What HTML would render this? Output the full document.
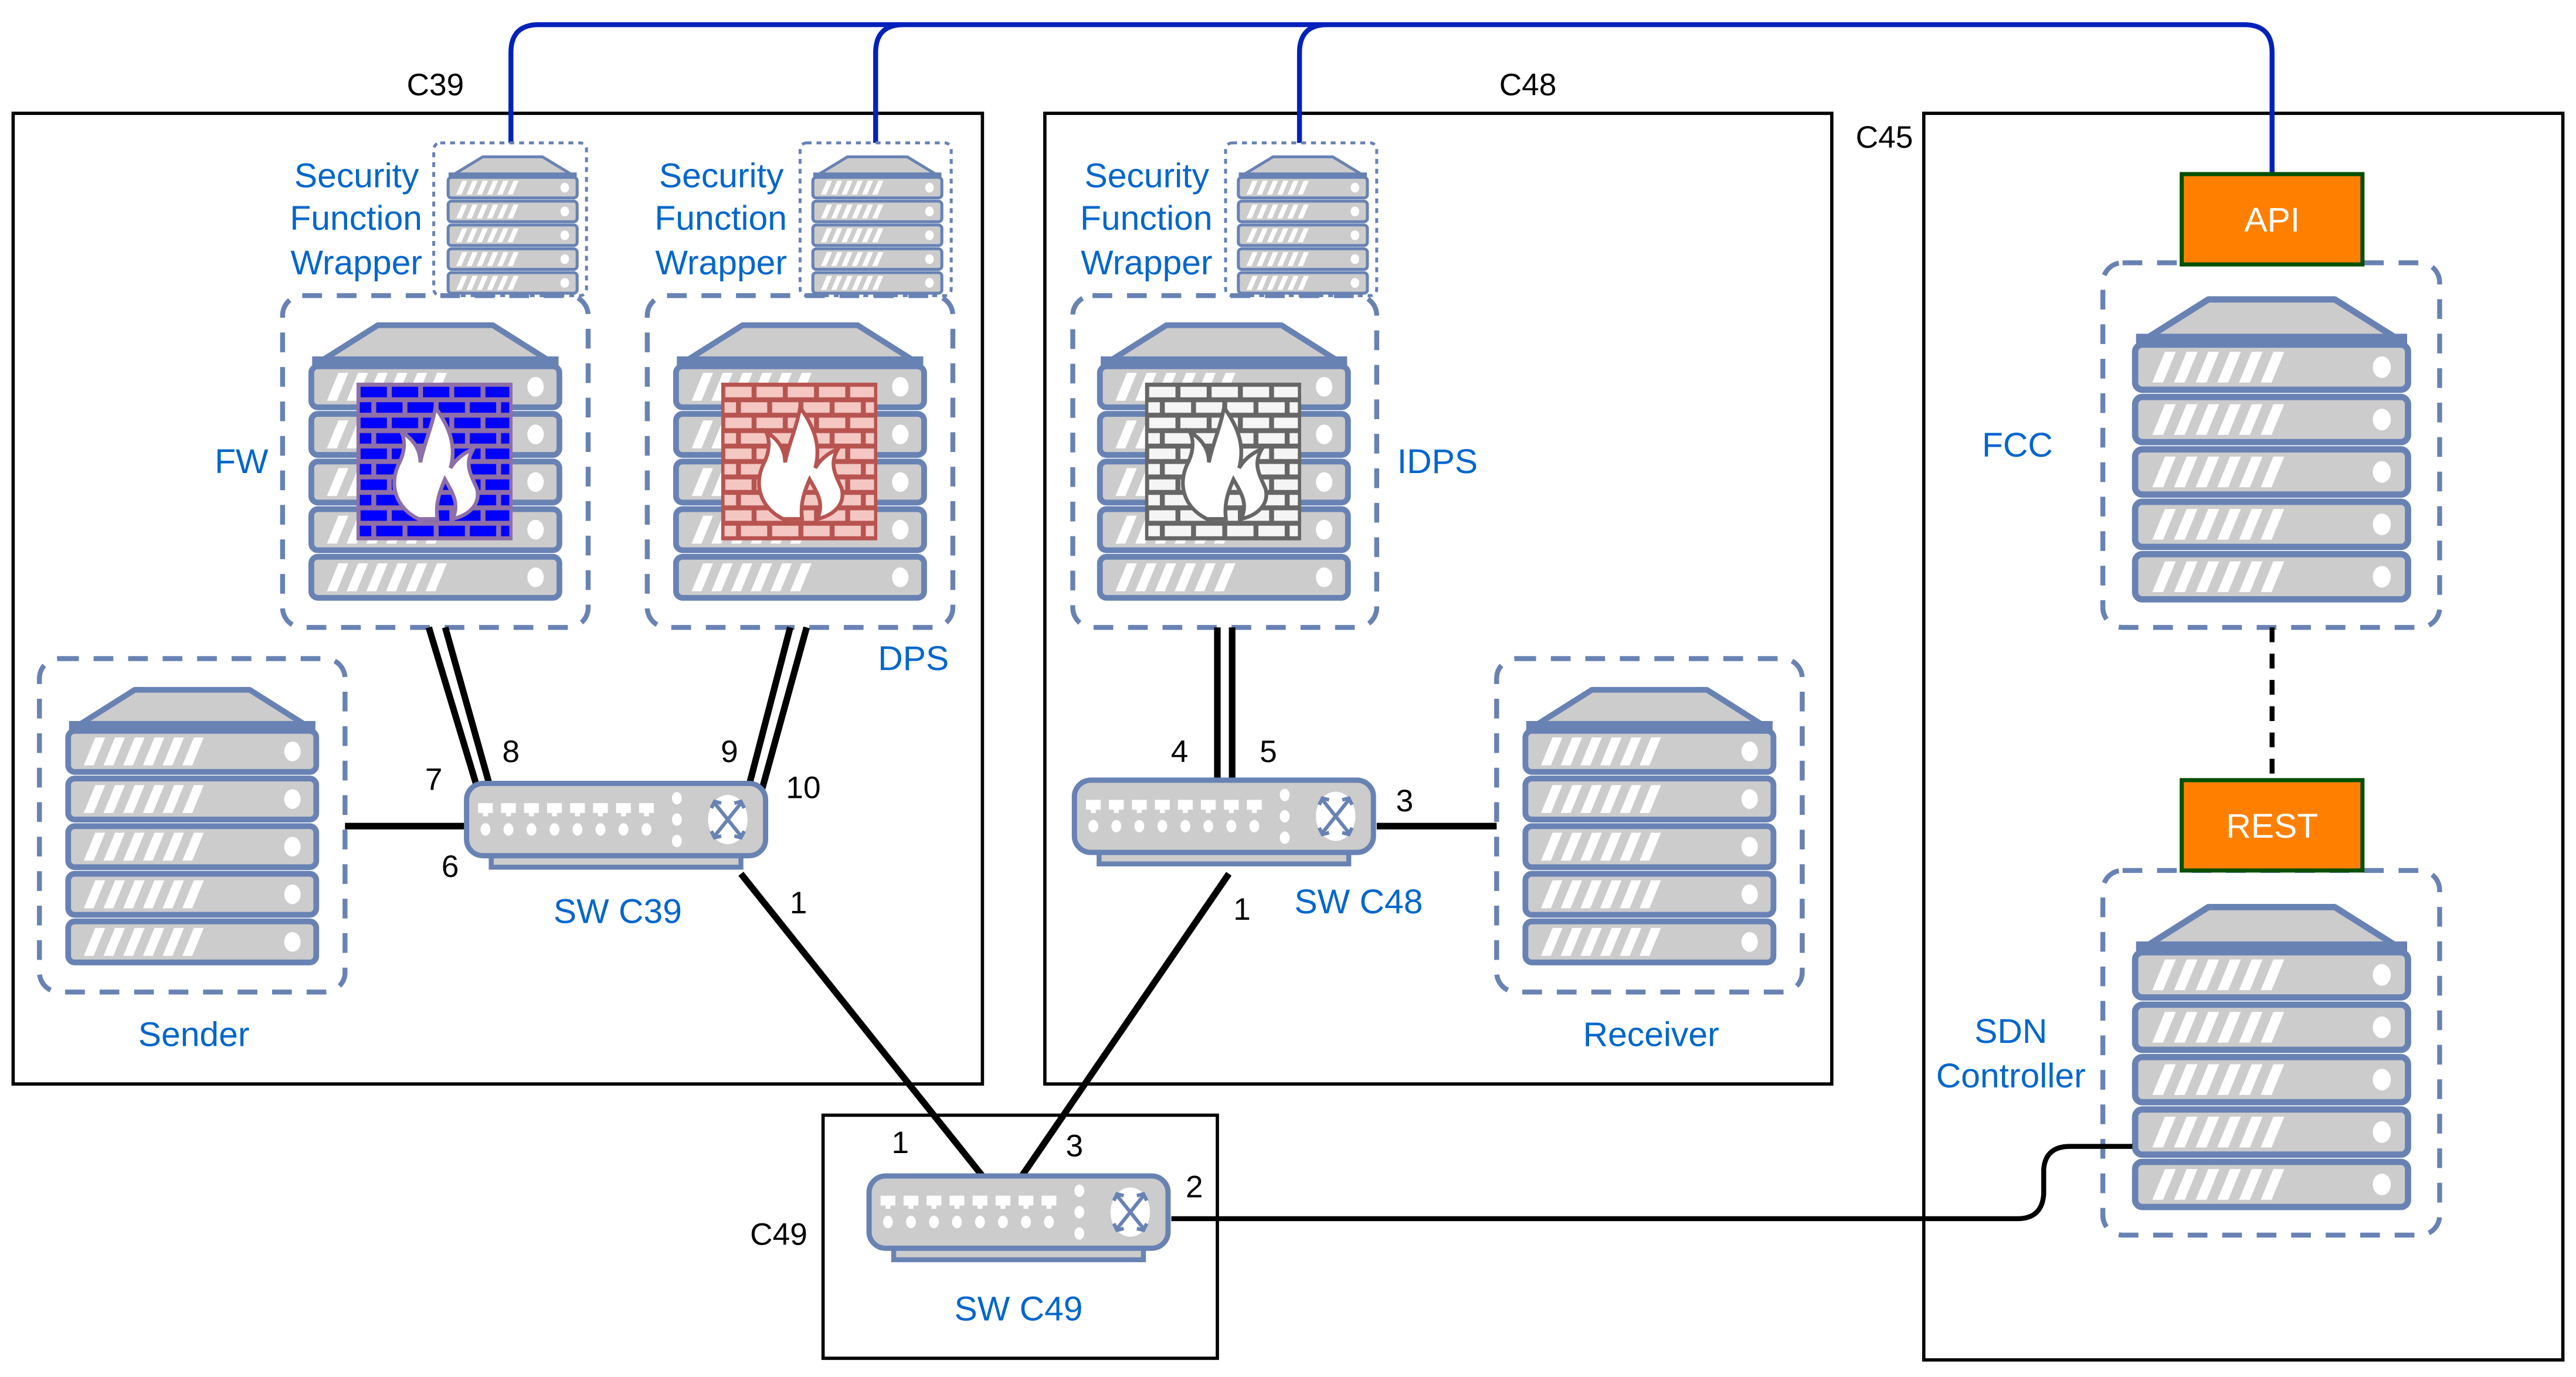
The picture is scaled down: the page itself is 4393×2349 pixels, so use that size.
<!DOCTYPE html>
<html><head><meta charset="utf-8"><style>
html,body{margin:0;padding:0;background:#fff;}
svg{display:block;}
text{font-family:"Liberation Sans",Arial,sans-serif;}
.b{fill:#0066CC;font-size:21px;}
.k{fill:#000;font-size:19px;}
</style></head><body>
<svg width="4393" height="2349" viewBox="0 0 1568 838.4" preserveAspectRatio="none" xmlns="http://www.w3.org/2000/svg">
<defs>
<g id="unit">
<rect x="1.5" y="0" width="151" height="25" rx="4" fill="#CCCCCC" stroke="#6882B4" stroke-width="3.5"/>
<polygon points="18,4 24,4 17,21 11,21" fill="#fff"/>
<polygon points="30,4 36,4 29,21 23,21" fill="#fff"/>
<polygon points="42,4 48,4 41,21 35,21" fill="#fff"/>
<polygon points="54,4 60,4 53,21 47,21" fill="#fff"/>
<polygon points="66,4 72,4 65,21 59,21" fill="#fff"/>
<polygon points="78,4 84,4 77,21 71,21" fill="#fff"/>
<ellipse cx="138" cy="12.5" rx="5" ry="6" fill="#fff"/>
</g>
<g id="srv">
<polygon points="4,27 42,3 112,3 150,27" fill="#CCCCCC" stroke="#6882B4" stroke-width="3.5" stroke-linejoin="round"/>
<rect x="2" y="22" width="150" height="6" fill="#6882B4"/>
<use href="#unit" y="28"/><use href="#unit" y="57"/><use href="#unit" y="86"/><use href="#unit" y="115"/><use href="#unit" y="144"/>
</g>
<g id="sw">
<rect x="17" y="44" width="152" height="9" fill="#CCCCCC" stroke="#6882B4" stroke-width="3"/>
<rect x="2" y="2" width="182" height="44" rx="10" fill="#CCCCCC" stroke="#6882B4" stroke-width="3.2"/>
<g fill="#fff">
<rect x="9" y="14" width="9" height="6"/><rect x="23" y="14" width="9" height="6"/><rect x="37" y="14" width="9" height="6"/><rect x="51" y="14" width="9" height="6"/><rect x="65" y="14" width="9" height="6"/><rect x="79" y="14" width="9" height="6"/><rect x="93" y="14" width="9" height="6"/><rect x="107" y="14" width="9" height="6"/>
<rect x="12" y="19" width="3" height="3"/><rect x="26" y="19" width="3" height="3"/><rect x="40" y="19" width="3" height="3"/><rect x="54" y="19" width="3" height="3"/><rect x="68" y="19" width="3" height="3"/><rect x="82" y="19" width="3" height="3"/><rect x="96" y="19" width="3" height="3"/><rect x="110" y="19" width="3" height="3"/>
<ellipse cx="13.5" cy="30" rx="3" ry="3.8"/><ellipse cx="27.5" cy="30" rx="3" ry="3.8"/><ellipse cx="41.5" cy="30" rx="3" ry="3.8"/><ellipse cx="55.5" cy="30" rx="3" ry="3.8"/><ellipse cx="69.5" cy="30" rx="3" ry="3.8"/><ellipse cx="83.5" cy="30" rx="3" ry="3.8"/><ellipse cx="97.5" cy="30" rx="3" ry="3.8"/><ellipse cx="111.5" cy="30" rx="3" ry="3.8"/>
<ellipse cx="130" cy="11" rx="3" ry="3.8"/><ellipse cx="130" cy="24" rx="3" ry="3.8"/><ellipse cx="130" cy="37" rx="3" ry="3.8"/>
<ellipse cx="161" cy="24" rx="12" ry="15"/>
</g>
<g stroke="#6882B4" stroke-width="2.2" fill="none">
<line x1="153" y1="14" x2="169" y2="34"/><line x1="169" y1="14" x2="153" y2="34"/>
<polyline points="151,17 153,13 157,14"/><polyline points="165,14 169,13 171,17"/>
<polyline points="151,31 153,35 157,34"/><polyline points="165,34 169,35 171,31"/>
</g>
</g>
<pattern id="pb" width="38" height="18.8" patternUnits="userSpaceOnUse">
<rect width="38" height="18.8" fill="#8E6FA8"/>
<g fill="#0000FF"><rect x="1.5" y="1.5" width="16" height="6.4"/><rect x="20.5" y="1.5" width="16" height="6.4"/><rect x="-8" y="10.9" width="16" height="6.4"/><rect x="11" y="10.9" width="16" height="6.4"/><rect x="30" y="10.9" width="16" height="6.4"/></g>
</pattern>
<pattern id="pr" width="38" height="18.8" patternUnits="userSpaceOnUse">
<rect width="38" height="18.8" fill="#B85450"/>
<g fill="#F4C7C3"><rect x="1.5" y="1.5" width="16" height="6.4"/><rect x="20.5" y="1.5" width="16" height="6.4"/><rect x="-8" y="10.9" width="16" height="6.4"/><rect x="11" y="10.9" width="16" height="6.4"/><rect x="30" y="10.9" width="16" height="6.4"/></g>
</pattern>
<pattern id="pg" width="38" height="18.8" patternUnits="userSpaceOnUse">
<rect width="38" height="18.8" fill="#666666"/>
<g fill="#F5F5F5"><rect x="1.5" y="1.5" width="16" height="6.4"/><rect x="20.5" y="1.5" width="16" height="6.4"/><rect x="-8" y="10.9" width="16" height="6.4"/><rect x="11" y="10.9" width="16" height="6.4"/><rect x="30" y="10.9" width="16" height="6.4"/></g>
</pattern>
<path id="flame" transform="translate(-7,-10) scale(1.15)" d="M38,80 C26,74 22,62 28,50 C31,44 31,38 29,34 C36,38 39,44 39,50 C41,40 45,32 47,21 C55,32 58,42 55,53 C58,48 62,45 67,43 C62,51 66,57 69,64 C71,72 65,78 56,80 C60,72 56,66 52,59 C49,66 47,72 48,80 Z"/>
</defs>

<g fill="none" stroke="#000" stroke-width="2">
<rect x="8" y="69" width="590" height="591"/>
<rect x="636" y="69" width="479" height="591"/>
<rect x="1171" y="69" width="389" height="759"/>
<rect x="501" y="679" width="240" height="148"/>
</g>
<text class="k" x="265" y="58" text-anchor="middle">C39</text>
<text class="k" x="930" y="58" text-anchor="middle">C48</text>
<text class="k" x="1147" y="90" text-anchor="middle">C45</text>
<text class="k" x="474" y="758" text-anchor="middle">C49</text>

<g fill="none" stroke="#0022BB" stroke-width="3">
<path d="M311,87 V32 Q311,15 328,15 H1366 Q1383,15 1383,32 V106"/>
<path d="M533,87 V32 Q533,15 550,15"/>
<path d="M791,87 V32 Q791,15 808,15"/>
</g>

<g fill="none" stroke="#6882B4" stroke-width="1.8" stroke-dasharray="3,3">
<rect x="264" y="87" width="93" height="93" rx="4"/>
<rect x="487" y="87" width="92" height="93" rx="4"/>
<rect x="746" y="87" width="92" height="93" rx="4"/>
</g>
<use href="#srv" transform="translate(272,94) scale(0.52,0.5)"/>
<use href="#srv" transform="translate(494,94) scale(0.52,0.5)"/>
<use href="#srv" transform="translate(753,94) scale(0.52,0.5)"/>
<g class="b" text-anchor="end">
<text x="255" y="114">Security</text><text x="257" y="140">Function</text><text x="257" y="167">Wrapper</text>
<text x="477" y="114">Security</text><text x="479" y="140">Function</text><text x="479" y="167">Wrapper</text>
<text x="736" y="114">Security</text><text x="738" y="140">Function</text><text x="738" y="167">Wrapper</text>
</g>

<g fill="none" stroke="#6882B4" stroke-width="3" stroke-dasharray="12,9">
<rect x="172" y="180" width="186" height="202" rx="12"/>
<rect x="394" y="180" width="186" height="202" rx="12"/>
<rect x="653" y="180" width="185" height="202" rx="12"/>
<rect x="24" y="401" width="186" height="203" rx="12"/>
<rect x="911" y="401" width="186" height="203" rx="12"/>
<rect x="1280" y="160" width="205" height="222" rx="12"/>
<rect x="1280" y="530" width="205" height="222" rx="12"/>
</g>

<use href="#srv" transform="translate(188,195)"/>
<use href="#srv" transform="translate(410,195)"/>
<use href="#srv" transform="translate(668,195)"/>
<use href="#srv" transform="translate(40,417)"/>
<use href="#srv" transform="translate(927,417)"/>
<use href="#srv" transform="translate(1298,179) scale(1.1,1.1)"/>
<use href="#srv" transform="translate(1298,549) scale(1.1,1.1)"/>

<g transform="translate(218,234)"><rect width="93" height="94" fill="url(#pb)" stroke="#8E6FA8" stroke-width="2"/><use href="#flame" fill="#fff" stroke="#8E6FA8" stroke-width="2"/></g>
<g transform="translate(440,234)"><rect width="93" height="94" fill="url(#pr)" stroke="#B85450" stroke-width="2"/><use href="#flame" fill="#fff" stroke="#B85450" stroke-width="2"/></g>
<g transform="translate(698,234)"><rect width="93" height="94" fill="url(#pg)" stroke="#666" stroke-width="2"/><use href="#flame" fill="#fff" stroke="#666" stroke-width="2"/></g>

<rect x="1328" y="106" width="110" height="55" fill="#FF8000" stroke="#005000" stroke-width="2.5"/>
<text x="1383" y="141" text-anchor="middle" fill="#fff" font-size="21">API</text>
<rect x="1328" y="475" width="110" height="55" fill="#FF8000" stroke="#005000" stroke-width="2.5"/>
<text x="1383" y="510" text-anchor="middle" fill="#fff" font-size="21">REST</text>
<line x1="1383" y1="382" x2="1383" y2="475" stroke="#000" stroke-width="3" stroke-dasharray="9,7"/>

<g stroke="#000" stroke-width="4" fill="none">
<line x1="261" y1="382" x2="290" y2="478"/><line x1="271" y1="382" x2="298" y2="478"/>
<line x1="481" y1="382" x2="456" y2="478"/><line x1="491" y1="382" x2="464" y2="480"/>
<line x1="741" y1="382" x2="741" y2="476"/><line x1="750" y1="382" x2="750" y2="476"/>
<line x1="210" y1="503" x2="285" y2="503"/>
<line x1="838" y1="503" x2="911" y2="503"/>
<line x1="451" y1="532" x2="598" y2="716"/>
<line x1="748" y1="532" x2="622" y2="716"/>
</g>
<path d="M713,742 H1228 Q1243,742 1244,727 V712 Q1245,698 1260,698 H1298" fill="none" stroke="#000" stroke-width="3"/>

<use href="#sw" transform="translate(282,475)"/>
<use href="#sw" transform="translate(652,473)"/>
<use href="#sw" transform="translate(527,714)"/>

<g class="k" text-anchor="middle">
<text x="264" y="481">7</text><text x="311" y="464">8</text><text x="444" y="464">9</text><text x="489" y="486">10</text>
<text x="274" y="534">6</text><text x="486" y="556">1</text>
<text x="718" y="464">4</text><text x="772" y="464">5</text><text x="855" y="494">3</text><text x="756" y="560">1</text>
<text x="548" y="702">1</text><text x="654" y="704">3</text><text x="727" y="729">2</text>
</g>

<g class="b" text-anchor="middle">
<text x="147" y="288">FW</text>
<text x="556" y="408">DPS</text>
<text x="875" y="288">IDPS</text>
<text x="118" y="637">Sender</text>
<text x="1005" y="637">Receiver</text>
<text x="1228" y="278">FCC</text>
<text x="1224" y="635">SDN</text>
<text x="1224" y="662">Controller</text>
<text x="376" y="562">SW C39</text>
<text x="827" y="556">SW C48</text>
<text x="620" y="804">SW C49</text>
</g>
</svg>
</body></html>
